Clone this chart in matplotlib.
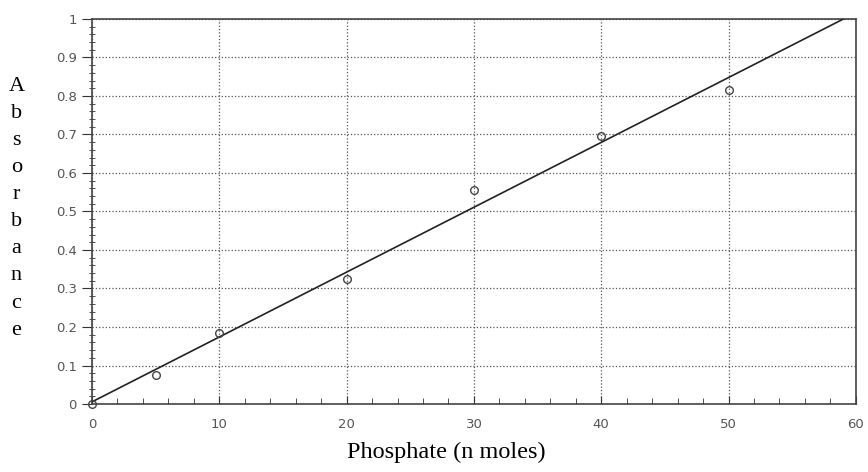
import numpy as np
import matplotlib.pyplot as plt
from matplotlib.ticker import MultipleLocator

# Phosphate standard curve
phosphate = [0, 5, 10, 20, 30, 40, 50]  # n moles
absorbance = [0.0, 0.075, 0.185, 0.325, 0.555, 0.695, 0.815]

# least squares line through the standards
slope, intercept = np.polyfit(phosphate, absorbance, 1)
fit_x = np.array([0, 60])
fit_y = slope * fit_x + intercept

fig = plt.figure(figsize=(8.68, 4.72), dpi=100)
ax = fig.add_axes([0.106, 0.144, 0.880, 0.816])

ax.plot(fit_x, fit_y, color='#222222', lw=1.2, zorder=3)
ax.plot(phosphate, absorbance, 'o', ms=5.5, mfc='none', mec='#444444', mew=1.0,
        zorder=4, clip_on=False)

ax.set_xlim(0, 60)
ax.set_ylim(0, 1)
ax.xaxis.set_major_locator(MultipleLocator(10))
ax.xaxis.set_minor_locator(MultipleLocator(2))
ax.yaxis.set_minor_locator(MultipleLocator(0.02))
ax.set_yticks(np.arange(0, 1.01, 0.1))
ax.set_yticklabels(['0', '0.1', '0.2', '0.3', '0.4', '0.5', '0.6', '0.7', '0.8', '0.9', '1'])

ax.grid(which='major', linestyle=':', color='#555555', lw=0.9)
ax.tick_params(axis='x', which='both', direction='in', colors='#333333',
               labelcolor='#555555', labelsize=9.5, pad=10)
ax.tick_params(axis='x', which='major', length=6)
ax.tick_params(axis='x', which='minor', length=4)
ax.tick_params(axis='y', which='major', direction='out', length=7, colors='#333333',
               labelcolor='#555555', labelsize=9.5, pad=4)
ax.tick_params(axis='y', which='minor', direction='inout', length=4, colors='#333333')
for s in ax.spines.values():
    s.set_color('#444444')
    s.set_linewidth(1.2)

# stacked vertical y label and x label in serif
fig.text(0.019, 0.559, '\n'.join('Absorbance'), family='Liberation Serif',
         fontsize=16, ha='center', va='center', linespacing=1.58)
fig.text(0.514, 0.042, 'Phosphate (n moles)', family='Liberation Serif',
         fontsize=17.5, ha='center', va='center')

fig.savefig('out.png', dpi=100)
